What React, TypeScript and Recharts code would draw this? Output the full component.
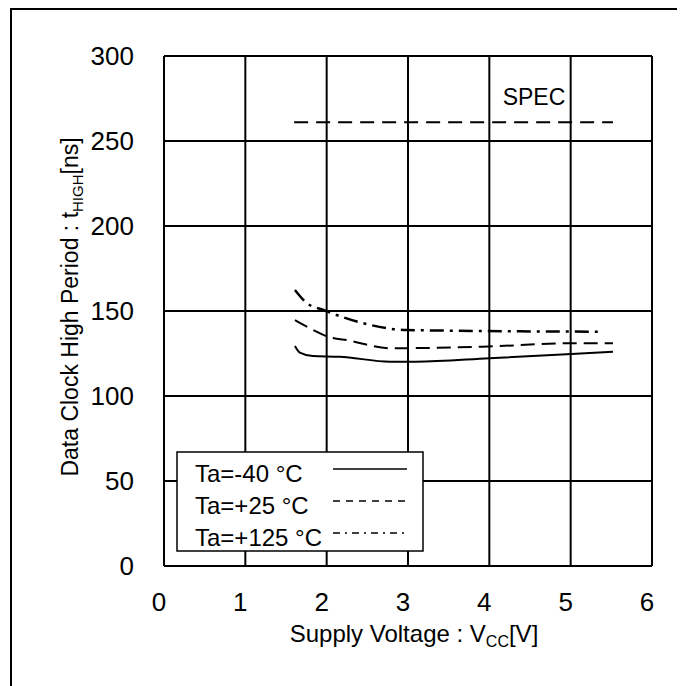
import { LineChart, Line, XAxis, YAxis, CartesianGrid } from "recharts";

// Ta = -40 °C (solid)
const voltsCold = [1.61, 1.67, 1.83, 2.16, 2.78, 3.1, 4.0, 5.01, 5.52];
const tHighCold = [129.4, 125.5, 123.5, 123.1, 120.2, 120.2, 122.2, 124.7, 126.1];

// Ta = +25 °C (dashed)
const voltsRoom = [1.61, 1.86, 1.98, 2.29, 2.78, 3.92, 5.01, 5.52];
const tHighRoom = [144.7, 138.2, 135.5, 132.5, 128.1, 129.0, 131.0, 131.0];

// Ta = +125 °C (dash-dot)
const voltsHot = [1.61, 1.75, 1.96, 2.45, 2.98, 5.4];
const tHighHot = [162.4, 154.9, 150.6, 142.8, 138.8, 137.8];

// SPEC
const voltsSpec = [1.6, 5.52];
const tHighSpec = [261, 261];

const xTicks = [0, 1, 2, 3, 4, 5, 6];
const yTicks = [0, 50, 100, 150, 200, 250, 300];

const legendLabels = ["Ta=-40 °C", "Ta=+25 °C", "Ta=+125 °C"];
const legendDash = ["0", "7 6", "7 5 2 5"];

const toRows = (v: number[], t: number[]) => v.map((x, i) => ({ v: x, t: t[i] }));

const FONT = "'Liberation Sans', Arial, sans-serif";

const YTick = (props: any) => (
  <text x={134} y={props.y} textAnchor="end" dominantBaseline="central" fontSize={26} fontFamily={FONT} fill="#000">
    {props.payload.value}
  </text>
);

const XTick = (props: any) => (
  <text x={props.x - 5} y={602} textAnchor="middle" dominantBaseline="central" fontSize={26} fontFamily={FONT} fill="#000">
    {props.payload.value}
  </text>
);

export default function App() {
  return (
    <div
      style={{
        position: "relative",
        width: 669,
        height: 690,
        marginLeft: 2,
        border: "2px solid #000",
        boxSizing: "border-box",
        background: "#fff",
      }}
    >
      <style>{`html,body{overflow:hidden;background:#fff}`}</style>
      <div style={{ position: "absolute", left: -12, top: -10 }}>
        <LineChart width={685} height={686} margin={{ top: 56, right: 33, left: 0, bottom: 60 }}>
          <CartesianGrid stroke="#000" strokeWidth={2} />
          <XAxis
            type="number"
            dataKey="v"
            domain={[0, 6]}
            ticks={xTicks}
            height={60}
            axisLine={{ stroke: "#000", strokeWidth: 2 }}
            tickLine={false}
            tick={<XTick />}
          />
          <YAxis
            type="number"
            dataKey="t"
            domain={[0, 300]}
            ticks={yTicks}
            width={164}
            axisLine={{ stroke: "#000", strokeWidth: 2 }}
            tickLine={false}
            tick={<YTick />}
          />
          <Line data={toRows(voltsSpec, tHighSpec)} dataKey="t" stroke="#000" strokeWidth={2} strokeDasharray="14 8" dot={false} isAnimationActive={false} />
          <Line data={toRows(voltsCold, tHighCold)} dataKey="t" type="monotone" stroke="#000" strokeWidth={2} dot={false} isAnimationActive={false} />
          <Line data={toRows(voltsRoom, tHighRoom)} dataKey="t" type="monotone" stroke="#000" strokeWidth={2} strokeDasharray="14 7" dot={false} isAnimationActive={false} />
          <Line data={toRows(voltsHot, tHighHot)} dataKey="t" type="monotone" stroke="#000" strokeWidth={2.5} strokeDasharray="14 6 3 6" dot={false} isAnimationActive={false} />
        </LineChart>
        <svg width={685} height={686} style={{ position: "absolute", left: 0, top: 0, pointerEvents: "none" }} fontFamily={FONT}>
          <text x={534} y={97} textAnchor="middle" dominantBaseline="central" fontSize={23}>SPEC</text>
          <text x={78} y={307} transform="rotate(-90 78 307)" textAnchor="middle" fontSize={23}>
            Data Clock High Period : t
            <tspan fontSize={15} dy={5}>HIGH</tspan>
            <tspan dy={-5}>[ns]</tspan>
          </text>
          <text x={414} y={642} textAnchor="middle" fontSize={24}>
            Supply Voltage : V
            <tspan fontSize={16} dy={5}>CC</tspan>
            <tspan dy={-5}>[V]</tspan>
          </text>
          <rect x={177} y={452} width={246} height={99} fill="#fff" stroke="#000" strokeWidth={1.5} />
          {legendLabels.map((label, i) => (
            <g key={label}>
              <text x={195} y={473 + i * 32} dominantBaseline="central" fontSize={24}>{label}</text>
              <line x1={333} x2={407} y1={469 + i * 32} y2={469 + i * 32} stroke="#000" strokeWidth={1.5} strokeDasharray={legendDash[i]} />
            </g>
          ))}
        </svg>
      </div>
    </div>
  );
}
